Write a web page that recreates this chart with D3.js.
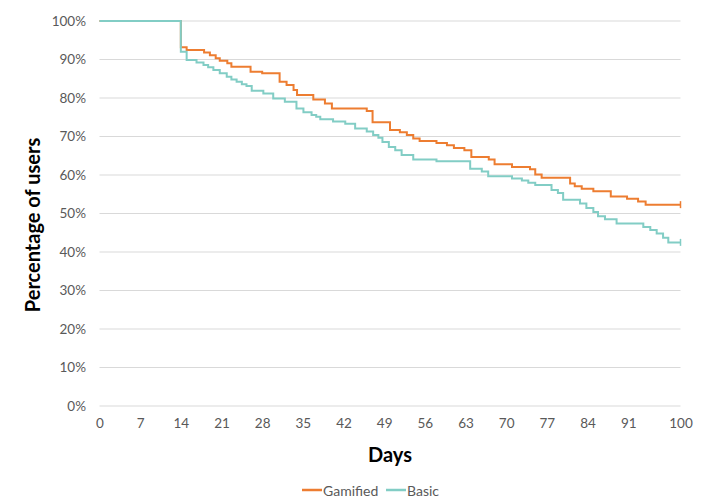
<!DOCTYPE html>
<html>
<head>
<meta charset="utf-8">
<script src="https://cdn.jsdelivr.net/npm/d3@7"></script>
<style>
  body { margin: 0; background: #fff; }
  #chart { width: 721px; height: 504px; }
  text { font-family: Lato, "Open Sans", sans-serif; }
</style>
</head>
<body>
<div id="chart"></div>
<script>
// Kaplan-Meier style step data: [day, percent from that day on]
const gamified = [
  [0, 100], [14, 93.2], [15, 92.5], [18, 91.8], [19, 91.1], [20, 90.3], [20.7, 89.7],
  [22, 89.0], [22.7, 88.1], [26, 86.8], [28, 86.4], [31, 84.2], [32.2, 83.4],
  [33.4, 82.1], [34, 80.8], [36.8, 79.6], [38.8, 78.6], [40, 77.3], [46, 76.6],
  [47, 73.7], [50, 71.7], [51.7, 71.1], [52.9, 70.4], [54, 69.5], [55.1, 68.8],
  [58, 68.3], [59.8, 67.7], [61, 67.0], [62.8, 66.4], [64, 64.7], [67, 64.0],
  [68, 62.8], [71, 62.1], [74.1, 61.5], [75, 60.1], [76.1, 59.3], [81, 57.8],
  [81.8, 57.1], [83, 56.4], [85, 55.8], [88, 54.4], [90.8, 53.8], [92.7, 53.1],
  [94, 52.3], [100, 52.3]
];
const basic = [
  [0, 100], [14, 92.0], [15, 89.9], [16.7, 89.2], [17.9, 88.6], [18.7, 88.0],
  [19.6, 87.3], [20.7, 86.4], [21.9, 85.5], [22.7, 84.8], [23.6, 84.2], [24.5, 83.6],
  [25.3, 83.1], [26.2, 81.9], [28.2, 81.2], [29.9, 79.9], [31.9, 79.0], [33.9, 77.3],
  [35.1, 76.3], [36.5, 75.6], [37.3, 75.1], [38, 74.5], [40.2, 73.9], [42.3, 73.3],
  [44, 72.1], [46, 71.3], [47.1, 70.4], [48, 69.7], [48.7, 68.6], [49.8, 67.3],
  [50.9, 66.4], [52, 65.2], [54, 64.0], [58, 63.6], [63.8, 61.6], [65.8, 60.9],
  [66.9, 59.7], [71, 59.1], [72.7, 58.6], [73.8, 58.0], [75, 57.4], [77.8, 56.1],
  [78.9, 55.3], [79.8, 53.6], [82.7, 52.6], [83.8, 51.4], [85, 50.4], [85.8, 49.3],
  [87, 48.5], [89, 47.4], [93.6, 46.5], [94.8, 45.7], [95.9, 44.8], [97, 43.7],
  [97.9, 42.5], [100, 42.5]
];
const xTicks = [0, 7, 14, 21, 28, 35, 42, 49, 56, 63, 70, 77, 84, 91, 100];
const yTicks = [0, 10, 20, 30, 40, 50, 60, 70, 80, 90, 100];
const seriesNames = ["Gamified", "Basic"];
const seriesColors = ["#ED7D31", "#82CDC5"];

const width = 721, height = 504;
const x = d3.scaleLinear().domain([0, 100]).range([99.5, 680.5]);
const y = d3.scaleLinear().domain([0, 100]).range([406, 21]);

const svg = d3.select("#chart").append("svg")
  .attr("width", width)
  .attr("height", height);

// Gridlines
svg.append("g")
  .selectAll("line")
  .data(yTicks)
  .join("line")
  .attr("x1", 99.5)
  .attr("x2", 680.5)
  .attr("y1", d => y(d))
  .attr("y2", d => y(d))
  .attr("stroke", "#d9d9d9")
  .attr("stroke-width", 1);

// Y axis labels
const yAxis = svg.append("g")
  .attr("transform", "translate(92,0)")
  .call(d3.axisLeft(y).tickValues(yTicks).tickFormat(d => d + "%").tickSize(0).tickPadding(6));
yAxis.select(".domain").remove();
yAxis.selectAll("text")
  .attr("fill", "#595959")
  .style("font-size", "13.5px");

// X axis labels
const xAxis = svg.append("g")
  .attr("transform", "translate(0,412)")
  .call(d3.axisBottom(x).tickValues(xTicks).tickSize(0).tickPadding(6));
xAxis.select(".domain").remove();
xAxis.selectAll("text")
  .attr("fill", "#595959")
  .style("font-size", "13.5px");

// Step lines
const line = d3.line()
  .x(d => x(d[0]))
  .y(d => y(d[1]))
  .curve(d3.curveStepAfter);

[gamified, basic].forEach((data, i) => {
  svg.append("path")
    .datum(data)
    .attr("fill", "none")
    .attr("stroke", seriesColors[i])
    .attr("stroke-width", 2)
    .attr("d", line);

  // Censoring mark at the end
  const last = data[data.length - 1];
  svg.append("line")
    .attr("x1", x(last[0]))
    .attr("x2", x(last[0]))
    .attr("y1", y(last[1]) - 3.5)
    .attr("y2", y(last[1]) + 3.5)
    .attr("stroke", seriesColors[i])
    .attr("stroke-width", 1.5);
});

// Axis titles
svg.append("text")
  .attr("x", 390)
  .attr("y", 462)
  .attr("text-anchor", "middle")
  .attr("font-weight", "bold")
  .attr("font-size", "20px")
  .attr("fill", "#000")
  .text("Days");

svg.append("text")
  .attr("transform", "translate(40,225) rotate(-90)")
  .attr("text-anchor", "middle")
  .attr("font-weight", "bold")
  .attr("font-size", "20px")
  .attr("fill", "#000")
  .text("Percentage of users");

// Legend
const legend = svg.append("g").attr("transform", "translate(302,490)");
const legendX = [0, 84];
seriesNames.forEach((name, i) => {
  const item = legend.append("g").attr("transform", `translate(${legendX[i]},0)`);
  item.append("line")
    .attr("x1", 0).attr("x2", 20)
    .attr("y1", 0).attr("y2", 0)
    .attr("stroke", seriesColors[i])
    .attr("stroke-width", 2.5);
  item.append("text")
    .attr("x", 21)
    .attr("y", 0)
    .attr("dominant-baseline", "central")
    .attr("fill", "#595959")
    .attr("font-size", "14px")
    .text(name);
});
</script>
</body>
</html>
